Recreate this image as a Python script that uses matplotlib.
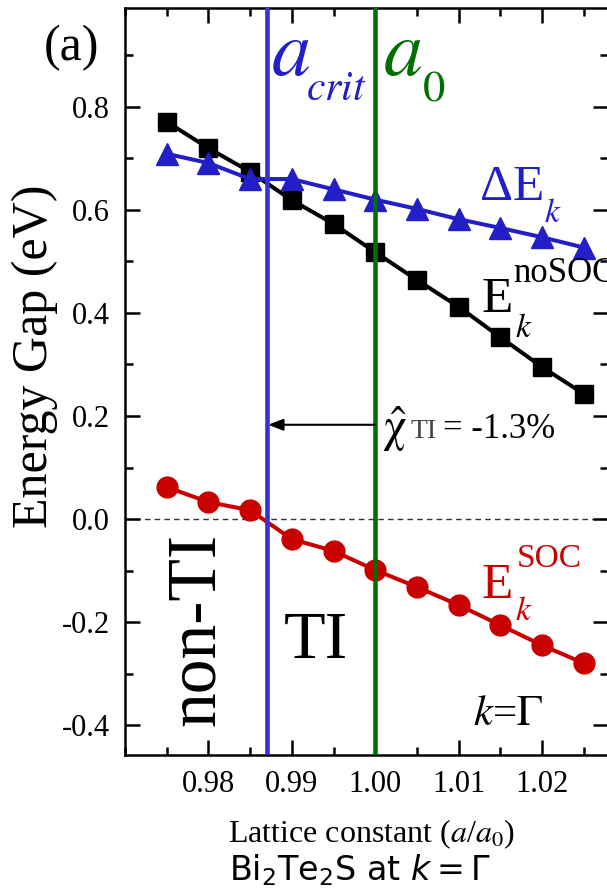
import matplotlib
matplotlib.use("Agg")
import matplotlib.pyplot as plt
from matplotlib.ticker import MultipleLocator

plt.rcParams['font.family'] = ['Liberation Serif', 'DejaVu Serif']
plt.rcParams['mathtext.fontset'] = 'stix'

# ---- data ----
lattice = [0.975, 0.980, 0.985, 0.990, 0.995, 1.000, 1.005, 1.010, 1.015, 1.020, 1.025]
e_nosoc = [0.771, 0.720, 0.674, 0.619, 0.573, 0.518, 0.464, 0.412, 0.353, 0.295, 0.243]
delta_e = [0.709, 0.691, 0.660, 0.660, 0.640, 0.620, 0.602, 0.582, 0.565, 0.547, 0.527]
e_soc = [0.062, 0.033, 0.017, -0.039, -0.062, -0.099, -0.132, -0.167, -0.206, -0.245, -0.280]
a_crit = 0.987
a_zero = 1.000
chi_label = "-1.3%"
x_ticks = [0.98, 0.99, 1.00, 1.01, 1.02]
y_ticks = [-0.4, -0.2, 0.0, 0.2, 0.4, 0.6, 0.8]

BLUE = '#221ec8'
VBLUE = '#3434d4'
RED = '#c80000'
GREEN = '#006e00'

W, H = 607, 892
fig = plt.figure(figsize=(W / 100, H / 100), dpi=100)
ax = fig.add_axes([125 / W, 1 - 755 / H, (608 - 125) / W, (755 - 8) / H])

ax.set_xlim(0.970, 1.0279)
ax.set_ylim(-0.458, 0.992)

ax.axhline(0, color='#333333', lw=1.0, ls=(0, (4, 3)), zorder=1)
ax.axvline(a_crit, color=VBLUE, lw=3.3, zorder=4)
ax.axvline(a_zero, color=GREEN, lw=3.3, zorder=4)

ax.plot(lattice, e_nosoc, '-s', color='black', lw=2.9, ms=13, zorder=3)
ax.plot(lattice, delta_e, '-^', color=BLUE, lw=2.9, ms=16, zorder=3)
ax.plot(lattice, e_soc, '-o', color=RED, lw=2.9, ms=15, zorder=3)

# arrow from a0 to a_crit
ax.annotate('', xy=(a_crit, 0.183), xytext=(a_zero, 0.183),
            arrowprops=dict(arrowstyle='-|>,head_length=0.9,head_width=0.35',
                            color='black', lw=1.5, shrinkA=0, shrinkB=1),
            zorder=5)
ax.text(1.0008, 0.150, r"$\hat{\mathrm{\chi}}$", fontsize=34, va='baseline', ha='left')
ax.text(1.0042, 0.157, "TI", fontsize=20, va='baseline', ha='left', color='#444444')
ax.text(1.0081, 0.157, "= " + chi_label, fontsize=25, va='baseline', ha='left')

# labels on curves
tkw = dict(va='baseline', ha='left', clip_on=False)
ax.text(1.01257, 0.619, "\u0394E", color=BLUE, fontsize=37, **tkw)
ax.text(1.0202, 0.577, "$k$", color=BLUE, fontsize=24, **tkw)

ax.text(1.0128, 0.402, "E", color='black', fontsize=37, **tkw)
ax.text(1.0166, 0.460, "noSOC", color='black', fontsize=25, **tkw)
ax.text(1.0168, 0.353, "$k$", color='black', fontsize=24, **tkw)

ax.text(1.0128, -0.153, "E", color=RED, fontsize=37, **tkw)
ax.text(1.0170, -0.093, "SOC", color=RED, fontsize=24, **tkw)
ax.text(1.0168, -0.196, "$k$", color=RED, fontsize=24, **tkw)

ax.text(1.0117, -0.400, r"$k$=$\Gamma$", color='black', fontsize=31, va='baseline', ha='left')

ax.text(0.9786, -0.215, "non-TI", rotation=90, fontsize=50, va='center', ha='center')
ax.text(0.9929, -0.238, "TI", fontsize=49, va='center', ha='center')

# a_crit and a_0 labels
ax.text(0.9875, 0.862, r"$a$", color=BLUE, fontsize=56, **tkw)
ax.text(0.9917, 0.814, r"$crit$", color=BLUE, fontsize=30, **tkw)
ax.text(1.0009, 0.862, r"$a$", color=GREEN, fontsize=56, **tkw)
ax.text(1.0056, 0.812, r"$\mathit{0}$", color=GREEN, fontsize=32, **tkw)

# ticks
ax.set_xticks(x_ticks)
ax.set_xticklabels([f"{v:.2f}" for v in x_ticks])
ax.set_yticks(y_ticks)
ax.set_yticklabels([f"{v:.1f}" for v in y_ticks])
ax.xaxis.set_minor_locator(MultipleLocator(0.005))
ax.yaxis.set_minor_locator(MultipleLocator(0.1))
ax.tick_params(which='both', direction='in', top=True, right=True, width=1.8, labelsize=22, pad=11)
ax.tick_params(which='major', length=11)
ax.tick_params(which='minor', length=6)
for s in ax.spines.values():
    s.set_linewidth(1.8)

fig.text(35 / W, 1 - 356 / H, "Energy Gap (eV)", rotation=90, fontsize=36, va='center', ha='center')
fig.text(371 / W, 1 - 834 / H, r"Lattice constant ($a$/$a_{\mathit{0}}$)", fontsize=23, va='center', ha='center')
fig.text(360 / W, 1 - 870 / H, r"Bi$_2$Te$_2$S at $k=\Gamma$", fontsize=24, va='center', ha='center',
         family='DejaVu Sans', math_fontfamily='dejavusans')
fig.text(72 / W, 1 - 48 / H, "(a)", fontsize=36, va='center', ha='center')

fig.savefig("out.png", dpi=100)
